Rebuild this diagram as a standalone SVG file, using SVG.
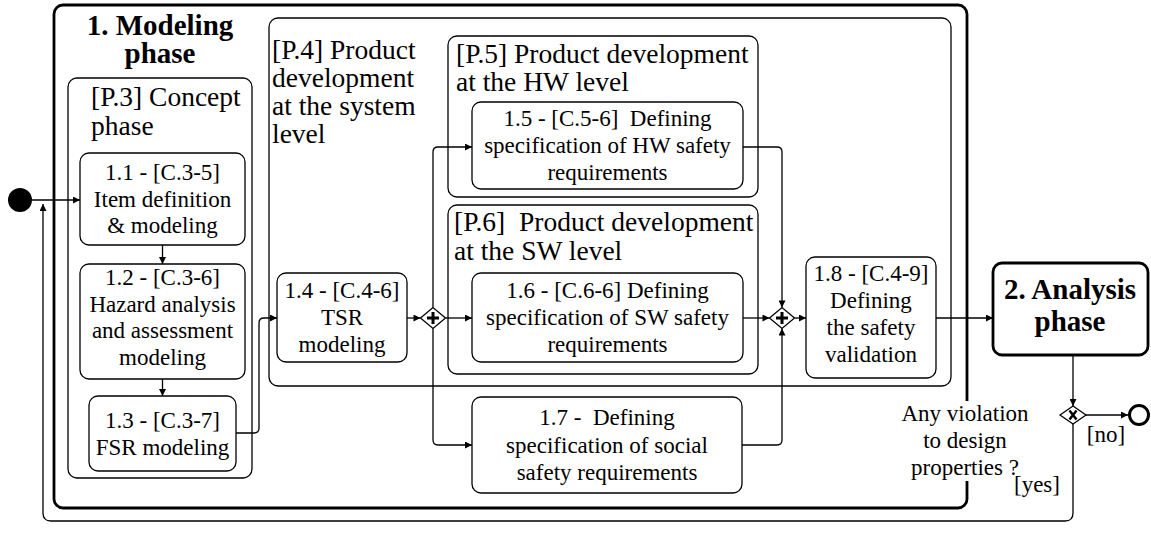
<svg xmlns="http://www.w3.org/2000/svg" width="1151" height="537" viewBox="0 0 1151 537">
<style>
.box{fill:none;stroke:#000;stroke-width:1.3}
.thick{fill:none;stroke:#000;stroke-width:2.8}
.conn{fill:none;stroke:#000;stroke-width:1.3;marker-end:url(#arr)}
.gw{fill:#fff;stroke:#000;stroke-width:1.3}
.mark{stroke:#000;stroke-width:3;fill:none}
.t,.lbl,.title{font-family:"Liberation Serif","Times New Roman",serif;fill:#000}
.t{font-size:23px;text-anchor:middle;white-space:pre}
.lbl{font-size:27.5px;white-space:pre}
.title{font-size:29px;font-weight:bold;text-anchor:middle}
</style>
<defs>
<marker id="arr" viewBox="0 0 10 10" refX="10" refY="5" markerUnits="userSpaceOnUse" markerWidth="9" markerHeight="7" orient="auto">
<path d="M0,0 L10,5 L0,10 z" fill="#000"/>
</marker>
</defs>
<rect width="1151" height="537" fill="#fff"/>

<g id="modeling-phase">
<rect class="thick" x="54" y="5" width="913" height="503" rx="9"/>
<text class="title" x="160" y="35">1. Modeling</text>
<text class="title" x="160" y="63">phase</text>
</g>

<g id="p3-concept-phase">
<rect class="box" x="68" y="78" width="184" height="400" rx="9"/>
<text class="lbl" x="91" y="106">[P.3] Concept</text>
<text class="lbl" x="91" y="135">phase</text>
</g>

<g id="p4-system-level">
<rect class="box" x="269" y="18" width="682" height="368" rx="9"/>
<text class="lbl" x="272" y="59">[P.4] Product</text>
<text class="lbl" x="272" y="87">development</text>
<text class="lbl" x="272" y="115">at the system</text>
<text class="lbl" x="272" y="143">level</text>
</g>

<g id="p5-hw-level">
<rect class="box" x="448" y="36" width="310" height="161" rx="9"/>
<text class="lbl" x="456" y="63">[P.5] Product development</text>
<text class="lbl" x="456" y="91">at the HW level</text>
</g>

<g id="p6-sw-level">
<rect class="box" x="448" y="205" width="310" height="169" rx="9"/>
<text class="lbl" x="454" y="231">[P.6]  Product development</text>
<text class="lbl" x="454" y="260">at the SW level</text>
</g>

<g id="connectors">
<path class="conn" d="M32,200 H80"/>
<path class="conn" d="M1073,424 V513 Q1073,521 1065,521 H51 Q43,521 43,513 V204"/>
<path class="conn" d="M162.5,245 V264"/>
<path class="conn" d="M162.5,379 V396"/>
<path class="conn" d="M236,433 H254 Q259,433 259,428 V323 Q259,318 264,318 H277"/>
<path class="conn" d="M407,318 H420.5"/>
<path class="conn" d="M445.5,318 H472"/>
<path class="conn" d="M433,307.5 V152 Q433,147 438,147 H472"/>
<path class="conn" d="M433,328.5 V440 Q433,445 438,445 H472"/>
<path class="conn" d="M743,147 H777 Q782,147 782,152 V307.5"/>
<path class="conn" d="M743,318 H769.5"/>
<path class="conn" d="M742,445 H777 Q782,445 782,440 V328.5"/>
<path class="conn" d="M794.5,318 H806"/>
<path class="conn" d="M936,318 H993"/>
<path class="conn" d="M1073,355 V406"/>
<path class="conn" d="M1086,415 H1128"/>
</g>

<g id="start">
<circle cx="20" cy="200" r="12" fill="#000"/>
</g>

<g id="task-1-1">
<rect class="box" x="80" y="153" width="165" height="92" rx="9"/>
<text class="t" x="162.5" y="180">1.1 - [C.3-5]</text>
<text class="t" x="162.5" y="206.5">Item definition</text>
<text class="t" x="162.5" y="233">&amp; modeling</text>
</g>

<g id="task-1-2">
<rect class="box" x="80" y="264" width="165" height="115" rx="9"/>
<text class="t" x="162.5" y="285">1.2 - [C.3-6]</text>
<text class="t" x="162.5" y="311.5">Hazard analysis</text>
<text class="t" x="162.5" y="338">and assessment</text>
<text class="t" x="162.5" y="364.5">modeling</text>
</g>

<g id="task-1-3">
<rect class="box" x="89" y="396" width="147" height="75" rx="9"/>
<text class="t" x="162.5" y="427.5">1.3 - [C.3-7]</text>
<text class="t" x="162.5" y="454.5">FSR modeling</text>
</g>

<g id="task-1-4">
<rect class="box" x="277" y="273" width="130" height="89" rx="9"/>
<text class="t" x="342" y="298">1.4 - [C.4-6]</text>
<text class="t" x="342" y="325">TSR</text>
<text class="t" x="342" y="352">modeling</text>
</g>

<g id="task-1-5">
<rect class="box" x="472" y="102" width="271" height="87" rx="9"/>
<text class="t" x="607.5" y="126">1.5 - [C.5-6]  Defining</text>
<text class="t" x="607.5" y="153">specification of HW safety</text>
<text class="t" x="607.5" y="180">requirements</text>
</g>

<g id="task-1-6">
<rect class="box" x="472" y="273" width="271" height="89" rx="9"/>
<text class="t" x="607.5" y="298">1.6 - [C.6-6] Defining</text>
<text class="t" x="607.5" y="325">specification of SW safety</text>
<text class="t" x="607.5" y="352">requirements</text>
</g>

<g id="task-1-7">
<rect class="box" x="472" y="397" width="270" height="96" rx="9"/>
<text class="t" x="607" y="425">1.7 -  Defining</text>
<text class="t" x="607" y="452.5">specification of social</text>
<text class="t" x="607" y="480">safety requirements</text>
</g>

<g id="task-1-8">
<rect class="box" x="806" y="257" width="130" height="121" rx="9"/>
<text class="t" x="871" y="281">1.8 - [C.4-9]</text>
<text class="t" x="871" y="308">Defining</text>
<text class="t" x="871" y="335">the safety</text>
<text class="t" x="871" y="362">validation</text>
</g>

<g id="gateway-split">
<polygon class="gw" points="420.5,318 433,307.5 445.5,318 433,328.5"/>
<path class="mark" d="M427,318 H439 M433,312 V324"/>
</g>

<g id="gateway-join">
<polygon class="gw" points="769.5,318 782,307.5 794.5,318 782,328.5"/>
<path class="mark" d="M776,318 H788 M782,312 V324"/>
</g>

<g id="analysis-phase">
<rect class="thick" x="993" y="263" width="155" height="92" rx="9" fill="#fff"/>
<text class="title" x="1070" y="299">2. Analysis</text>
<text class="title" x="1070" y="331">phase</text>
</g>

<g id="gateway-decision">
<polygon class="gw" points="1060,415 1073,406 1086,415 1073,424"/>
<path class="mark" d="M1069.5,410.5 L1076.5,419.5 M1076.5,410.5 L1069.5,419.5" style="stroke-width:2.5"/>
<rect x="902" y="401" width="128" height="80" fill="#fff"/>
<text class="t" x="965" y="421">Any violation</text>
<text class="t" x="965" y="448">to design</text>
<text class="t" x="965" y="475">properties ?</text>
<text class="t" x="1106" y="442">[no]</text>
<text class="t" x="1037" y="492">[yes]</text>
</g>

<g id="end">
<circle cx="1139" cy="415" r="9.5" fill="none" stroke="#000" stroke-width="3"/>
</g>
</svg>
